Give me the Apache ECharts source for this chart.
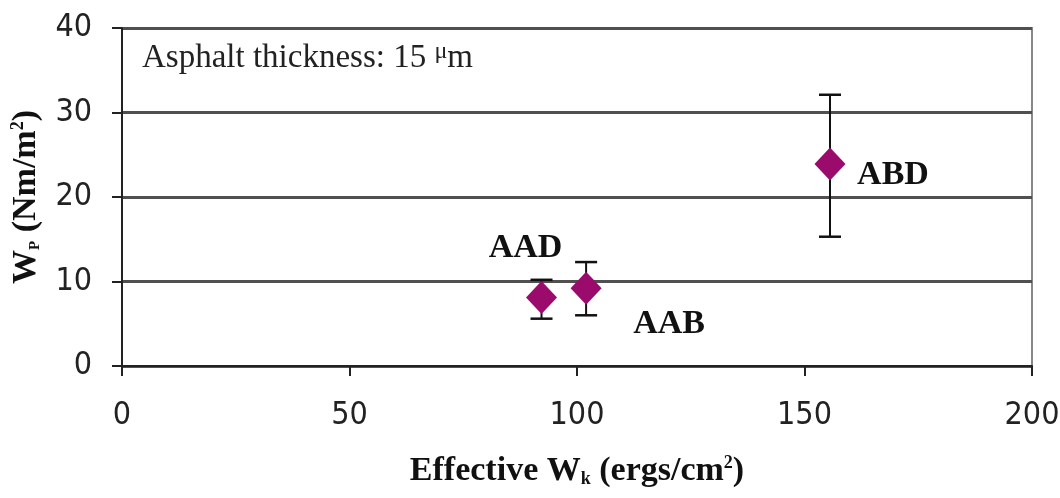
<!DOCTYPE html>
<html><head><meta charset="utf-8">
<script src="https://cdn.jsdelivr.net/npm/echarts@6/dist/echarts.min.js"></script>
<style>html,body{margin:0;padding:0;background:#fff}#c{width:1060px;height:498px}</style>
</head><body><div id="c"></div>
<script>
const names = ['AAD', 'AAB', 'ABD'];
const xValues = [92.2, 102.0, 155.6];
const yValues = [8.1, 9.2, 23.9];
const yLow = [5.6, 6.0, 15.3];
const yHigh = [10.2, 12.3, 32.1];
const xTicks = [0, 50, 100, 150, 200];
const yTicks = [0, 10, 20, 30, 40];
const labelOffsets = [[-16, -49], [83, 36], [63, 11]];

const serif = "'Liberation Serif','Times New Roman',serif";
const narrow = "'DejaVu Sans Condensed','Liberation Sans Narrow','DejaVu Sans',sans-serif";

const chart = echarts.init(document.getElementById('c'), null, {renderer: 'canvas'});
chart.setOption({
  animation: false,
  grid: {left: 122, right: 28, top: 28, bottom: 132, outerBoundsMode: 'none', containLabel: false,
    show: true, borderColor: '#888', borderWidth: 2, backgroundColor: 'transparent'},
  xAxis: {
    type: 'value', min: xTicks[0], max: xTicks[xTicks.length - 1], interval: 50,
    axisLine: {onZero: false, lineStyle: {color: '#222', width: 2}},
    axisTick: {show: true, length: 10, lineStyle: {color: '#222', width: 2}},
    axisLabel: {color: '#222', fontFamily: narrow, fontSize: 32, margin: 34},
    splitLine: {show: false},
    name: '{b|Effective W}{sub|k}{b| (ergs/cm}{sup|2}{b|)}',
    nameLocation: 'middle', nameGap: 88,
    nameTextStyle: {
      rich: {
        b: {fontFamily: serif, fontWeight: 'bold', fontSize: 34, color: '#111'},
        sub: {fontFamily: serif, fontWeight: 'bold', fontSize: 18, color: '#111', verticalAlign: 'bottom', padding: [14, 0, 0, 0]},
        sup: {fontFamily: serif, fontWeight: 'bold', fontSize: 18, color: '#111', verticalAlign: 'top', padding: [0, 0, 16, 0]}
      }
    }
  },
  yAxis: {
    type: 'value', min: yTicks[0], max: yTicks[yTicks.length - 1], interval: 10,
    axisLine: {show: true, onZero: false, lineStyle: {color: '#222', width: 2}},
    axisTick: {show: true, length: 10, lineStyle: {color: '#222', width: 2}},
    axisLabel: {color: '#222', fontFamily: narrow, fontSize: 32, margin: 30},
    splitLine: {show: true, lineStyle: {color: '#505050', width: 3}},
    name: '{b|W}{sub|P}{b| (Nm/m}{sup|2}{b|)}',
    nameLocation: 'middle', nameGap: 79, nameRotate: 90,
    nameTextStyle: {
      rich: {
        b: {fontFamily: serif, fontWeight: 'bold', fontSize: 34, color: '#111'},
        sub: {fontFamily: serif, fontWeight: 'bold', fontSize: 15, color: '#111', verticalAlign: 'bottom', padding: [12, 0, 0, 0]},
        sup: {fontFamily: serif, fontWeight: 'bold', fontSize: 18, color: '#111', verticalAlign: 'top', padding: [0, 0, 16, 0]}
      }
    }
  },
  graphic: [{
    type: 'text', left: 142, top: 40,
    style: {
      text: '{a|Asphalt thickness: 15 }{m|μ}{a|m}',
      rich: {
        a: {fontFamily: serif, fontSize: 33, fill: '#222'},
        m: {fontFamily: serif, fontSize: 24, fill: '#222', verticalAlign: 'top', padding: [0, 0, 12, 0]}
      }
    }
  }],
  series: [
    {
      type: 'custom',
      z: 3,
      data: xValues.map((x, i) => [x, yLow[i], yHigh[i]]),
      renderItem: function (params, api) {
        const x = api.value(0);
        const lo = api.coord([x, api.value(1)]);
        const hi = api.coord([x, api.value(2)]);
        const w = 11;
        const st = {stroke: '#111', lineWidth: 2};
        const cap = {stroke: '#111', lineWidth: 2.5};
        return {
          type: 'group',
          children: [
            {type: 'line', shape: {x1: lo[0], y1: lo[1], x2: hi[0], y2: hi[1]}, style: st},
            {type: 'line', shape: {x1: lo[0] - w, y1: lo[1], x2: lo[0] + w, y2: lo[1]}, style: cap},
            {type: 'line', shape: {x1: hi[0] - w, y1: hi[1], x2: hi[0] + w, y2: hi[1]}, style: cap}
          ]
        };
      }
    },
    {
      type: 'scatter',
      z: 4,
      symbol: 'diamond',
      symbolSize: [31, 33],
      itemStyle: {color: '#9A0B6C', opacity: 1},
      emphasis: {disabled: true},
      data: xValues.map((x, i) => ({
        value: [x, yValues[i]],
        name: names[i],
        label: {show: true, position: 'inside', offset: labelOffsets[i], formatter: '{b}',
          fontFamily: serif, fontWeight: 'bold', fontSize: 34, color: '#111'}
      }))
    }
  ]
});
</script></body></html>
